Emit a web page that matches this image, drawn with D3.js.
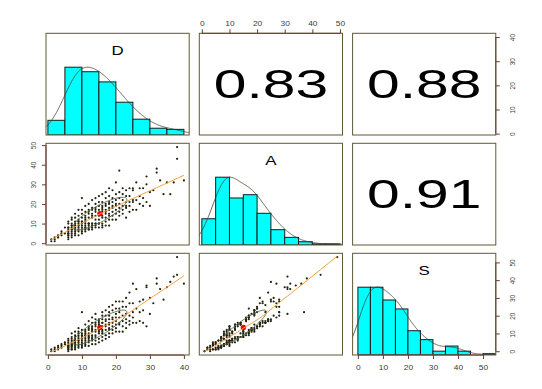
<!DOCTYPE html>
<html>
<head>
<meta charset="utf-8">
<script src="https://cdn.jsdelivr.net/npm/d3@7"></script>
<style>
  body { margin: 0; background: #fff; }
  text { font-family: "Liberation Sans", Arial, sans-serif; }
</style>
</head>
<body>
<div id="chart"></div>
<script>
// one value per case for each of the three variables
let D = [
  1, 1, 2, 2, 2, 3, 3, 3, 4, 4, 4, 5, 5,
  6, 6, 6, 6, 6, 6, 6, 6, 6, 6, 6, 6,
  7, 7, 7, 7, 7, 7, 7, 7, 7, 7, 7, 7,
  8, 8, 8, 8, 8, 8, 8, 8, 8, 8, 8, 8,
  9, 9, 9, 9, 9, 9, 9, 9, 9, 9, 9, 9,
  10, 10, 10, 10, 10, 10, 10, 10, 10, 10, 10, 10,
  11, 11, 11, 11, 11, 11, 11, 11, 11, 11, 11, 11,
  12, 12, 12, 12, 12, 12, 12, 12, 12, 12, 12, 12,
  13, 13, 13, 13, 13, 13, 13, 13, 13, 13, 13,
  14, 14, 14, 14, 14, 14, 14, 14, 14, 14, 14,
  15, 15, 15, 15, 15, 15, 15, 15, 15, 15,
  16, 16, 16, 16, 16, 16, 16, 16, 16, 16, 16,
  17, 17, 17, 17, 17, 17, 17, 17, 17, 17,
  18, 18, 18, 18, 18, 18, 18, 18, 18, 18,
  19, 19, 19, 19, 19, 19, 19, 19,
  20, 20, 20, 20, 20, 20, 20, 20,
  21, 21, 21, 21, 21, 21, 21, 22, 22, 22, 22, 22, 22, 23, 23, 23, 23, 23, 23, 24, 24, 24, 24, 24, 25, 25, 25, 25, 25,
  26, 26, 26, 27, 27, 27, 28, 28, 28, 29, 29, 29, 30, 30,
  31, 32, 32, 33, 35, 34, 36, 37, 38, 38, 40
];
let A = [
  1, 2, 1, 3, 2, 3, 4, 3, 5, 4, 6, 5, 8,
  2, 3, 4, 4, 5, 5, 6, 7, 8, 8, 10, 11,
  3, 4, 5, 6, 7, 7, 8, 9, 9, 10, 12, 13,
  4, 5, 6, 7, 8, 8, 9, 10, 10, 11, 13, 15,
  4, 6, 7, 8, 9, 9, 10, 11, 11, 12, 14, 17,
  5, 6, 7, 8, 9, 10, 11, 11, 13, 15, 17, 23,
  6, 7, 8, 8, 9, 10, 11, 12, 13, 14, 16, 19,
  7, 7, 8, 9, 10, 10, 10, 13, 15, 16, 17, 20,
  7, 8, 9, 10, 10, 13, 14, 15, 17, 18, 22,
  8, 9, 10, 10, 12, 14, 16, 17, 18, 20, 23,
  8, 10, 10, 12, 14, 15, 17, 19, 21, 24,
  8, 9, 10, 13, 14, 16, 17, 18, 19, 21, 25,
  9, 11, 13, 15, 16, 17, 19, 20, 23, 26,
  9, 12, 14, 15, 17, 18, 20, 21, 24, 28,
  12, 14, 16, 18, 19, 21, 23, 27,
  12, 15, 17, 19, 20, 22, 25, 31,
  14, 16, 18, 20, 23, 26, 37, 15, 17, 19, 22, 25, 28, 13, 18, 19, 21, 24, 27, 16, 19, 21, 24, 28, 17, 21, 22, 27, 28,
  17, 22, 31, 20, 24, 28, 19, 23, 28, 21, 30, 34, 19, 26,
  27, 38, 36, 32, 31, 25, 25, 31, 49, 43, 32
];
let S = [
  0, 1, 0, 1, 2, 1, 3, 2, 2, 4, 3, 5, 4,
  2, 0, 3, 1, 4, 1, 2, 6, 3, 7, 3, 5,
  3, 1, 4, 1, 6, 2, 3, 8, 4, 10, 5, 7,
  4, 1, 6, 2, 7, 3, 5, 9, 5, 11, 6, 8,
  5, 2, 7, 3, 9, 4, 6, 11, 6, 13, 8, 10,
  5, 2, 8, 3, 9, 4, 6, 10, 7, 12, 9, 22,
  6, 3, 9, 4, 10, 5, 7, 12, 8, 15, 9, 11,
  7, 3, 9, 5, 12, 6, 8, 14, 8, 17, 10, 13,
  8, 4, 11, 6, 13, 7, 16, 9, 19, 12, 14,
  9, 4, 12, 6, 15, 8, 18, 11, 21, 14, 16,
  10, 5, 14, 7, 16, 11, 18, 12, 15, 17,
  11, 6, 14, 8, 16, 10, 20, 12, 22, 16, 18,
  9, 7, 15, 9, 18, 12, 23, 14, 17, 20,
  12, 8, 16, 10, 20, 13, 25, 15, 18, 22,
  14, 10, 18, 12, 23, 16, 26, 19,
  15, 11, 19, 13, 24, 17, 28, 21,
  15, 19, 11, 24, 16, 28, 22, 14, 11, 20, 28, 17, 25, 16, 13, 21, 30, 18, 25, 17, 15, 27, 33, 20, 19, 16, 27, 38, 22,
  24, 16, 35, 22, 17, 28, 23, 16, 29, 14, 36, 37, 21, 30,
  27, 41, 38, 35, 36, 29, 39, 42, 53, 43, 38
];

let varNames = ["D", "A", "S"];
// upper panels (row, col) and the correlation printed in each
let corrCells = [[0, 1], [0, 2], [1, 2]];
let corrLabels = ["0.83", "0.88", "0.91"];
// tick values of each variable's axis
let ticksD = [0, 10, 20, 30, 40];
let ticksA = [0, 10, 20, 30, 40, 50];
let ticksS = [0, 10, 20, 30, 40, 50];

// layout
let svgWidth = 542, svgHeight = 389;
let colX = [46, 199.3, 352.6];
let rowY = [33.3, 143.3, 253.3];
let pw = 143.2, ph = 101.7;

let boxCol = "#5e5a35", axisCol = "#6a3b33", labelCol = "#3a3a3a";

let svg = d3.select("#chart")
  .append("svg")
  .attr("width", svgWidth)
  .attr("height", svgHeight);

let vars = [D, A, S];
let tickSets = [ticksD, ticksA, ticksS];

// R style ranges: data extent padded by 4% each side
let domains = vars.map(v => {
  let [lo, hi] = d3.extent(v);
  let pad = (hi - lo) * 0.04;
  return [lo - pad, hi + pad];
});
let xScales = vars.map((v, j) => d3.scaleLinear().domain(domains[j]).range([colX[j], colX[j] + pw]));
let yScales = vars.map((v, i) => d3.scaleLinear().domain(domains[i]).range([rowY[i] + ph, rowY[i]]));

// clip rects for every panel
let defs = svg.append("defs");
for (let i = 0; i < 3; i++) {
  for (let j = 0; j < 3; j++) {
    defs.append("clipPath").attr("id", `clip-${i}-${j}`)
      .append("rect")
      .attr("x", colX[j]).attr("y", rowY[i])
      .attr("width", pw).attr("height", ph);
  }
}

// histogram with R's right-closed bins and Sturges breaks
function histCounts(v) {
  let [lo, hi] = d3.extent(v);
  let step = d3.tickIncrement(lo, hi, Math.ceil(Math.log2(v.length) + 1));
  let b0 = Math.floor(lo / step) * step, b1 = Math.ceil(hi / step) * step;
  let breaks = d3.range(b0, b1 + step / 2, step);
  return breaks.slice(0, -1).map((b, k) => ({
    x0: b,
    x1: breaks[k + 1],
    n: v.filter(x => (k === 0 ? x >= b : x > b) && x <= breaks[k + 1]).length
  }));
}

// gaussian kernel density, bw = nrd * 1.2
function density(v) {
  let n = v.length;
  let sorted = d3.sort(v);
  let iqr = d3.quantile(sorted, 0.75) - d3.quantile(sorted, 0.25);
  let bw = 1.2 * 1.06 * Math.min(d3.deviation(v), iqr / 1.34) * Math.pow(n, -0.2);
  let lo = d3.min(v) - 3 * bw, hi = d3.max(v) + 3 * bw;
  let pts = d3.range(512).map(k => {
    let t = lo + (hi - lo) * k / 511;
    return [t, d3.sum(v, x => Math.exp(-0.5 * ((t - x) / bw) ** 2))];
  });
  let m = d3.max(pts, p => p[1]);
  return pts.map(p => [p[0], p[1] / m]);
}

// lowess smoother (f = 2/3, 3 robustness iterations)
function lowess(xv, yv, f = 2 / 3, iter = 3) {
  let order = d3.range(xv.length).sort((a, b) => xv[a] - xv[b]);
  let x = order.map(k => xv[k]), y = order.map(k => yv[k]);
  let n = x.length;
  let ns = Math.max(2, Math.min(n, Math.floor(f * n + 1e-7)));
  let rw = new Array(n).fill(1), fit = new Array(n).fill(0);
  for (let it = 0; it <= iter; it++) {
    for (let i = 0; i < n; i++) {
      let dist = x.map(v => Math.abs(v - x[i]));
      let h = d3.sort(dist)[ns - 1];
      let sw = 0, sx = 0, sy = 0;
      let w = dist.map((r, k) => {
        let wk;
        if (h === 0) wk = r === 0 ? 1 : 0;
        else if (r <= 0.999 * h) wk = r <= 0.001 * h ? 1 : Math.pow(1 - Math.pow(r / h, 3), 3);
        else wk = 0;
        return wk * rw[k];
      });
      for (let k = 0; k < n; k++) { sw += w[k]; sx += w[k] * x[k]; sy += w[k] * y[k]; }
      if (sw <= 0) { fit[i] = y[i]; continue; }
      let xb = sx / sw, yb = sy / sw, sxx = 0, sxy = 0;
      for (let k = 0; k < n; k++) {
        sxx += w[k] * (x[k] - xb) ** 2;
        sxy += w[k] * (x[k] - xb) * (y[k] - yb);
      }
      fit[i] = sxx > 1e-9 ? yb + (sxy / sxx) * (x[i] - xb) : yb;
    }
    if (it === iter) break;
    let res = y.map((v, k) => v - fit[k]);
    let cmad = 6 * d3.median(res.map(Math.abs));
    if (cmad < 1e-7) break;
    rw = res.map(r => {
      let u = Math.abs(r) / cmad;
      return u < 0.001 ? 1 : u > 0.999 ? 0 : (1 - u * u) ** 2;
    });
  }
  return x.map((v, k) => [v, fit[k]]);
}

function pearson(xv, yv) {
  let xm = d3.mean(xv), ym = d3.mean(yv);
  return d3.sum(xv, (v, k) => (v - xm) * (yv[k] - ym)) / ((xv.length - 1) * d3.deviation(xv) * d3.deviation(yv));
}

function stretchText(g, x, y, txt, size, sx) {
  return g.append("text")
    .attr("transform", `translate(${x}, ${y}) scale(${sx}, 1)`)
    .attr("text-anchor", "middle")
    .attr("dy", "0.35em")
    .attr("font-size", size)
    .attr("fill", "#000")
    .text(txt);
}

// diagonal: histogram, density and variable name
function drawDiag(i) {
  let g = svg.append("g").attr("clip-path", `url(#clip-${i}-${i})`);
  let x = xScales[i];
  let hy = d3.scaleLinear().domain([0, 1.5]).range([rowY[i] + ph, rowY[i]]);
  let bins = histCounts(vars[i]);
  let maxN = d3.max(bins, b => b.n);
  g.selectAll("rect")
    .data(bins)
    .join("rect")
    .attr("x", b => x(b.x0))
    .attr("width", b => x(b.x1) - x(b.x0))
    .attr("y", b => hy(b.n / maxN))
    .attr("height", b => hy(0) - hy(b.n / maxN))
    .attr("fill", "#00ffff")
    .attr("stroke", "#1a1a1a")
    .attr("stroke-width", 1);
  g.append("path")
    .datum(density(vars[i]))
    .attr("fill", "none")
    .attr("stroke", "#3f3f2f")
    .attr("stroke-width", 0.8)
    .attr("d", d3.line().x(p => x(p[0])).y(p => hy(p[1])));
  stretchText(svg, colX[i] + pw / 2, rowY[i] + 17, varNames[i], 13, 1.3);
}

// lower panels: points, correlation ellipse, mean, lowess
function drawScatter(i, j) {
  let g = svg.append("g").attr("clip-path", `url(#clip-${i}-${j})`);
  let x = xScales[j], y = yScales[i];
  let xv = vars[j], yv = vars[i];
  g.selectAll("circle.pt")
    .data(xv.map((v, k) => [v, yv[k]]))
    .join("circle")
    .attr("class", "pt")
    .attr("cx", d => x(d[0]))
    .attr("cy", d => y(d[1]))
    .attr("r", 1.1)
    .attr("fill", "#22220f");

  let xm = d3.mean(xv), ym = d3.mean(yv);
  let xs = d3.deviation(xv), ys = d3.deviation(yv);
  let r = pearson(xv, yv);
  let th = 1 / Math.sqrt(2);
  let ell = d3.range(52).map(k => {
    let a = k * 2 * Math.PI / 51;
    let c = Math.cos(a), s = Math.sin(a);
    let ex = th * (Math.sqrt(1 + r) * c - Math.sqrt(1 - r) * s);
    let ey = th * (Math.sqrt(1 + r) * c + Math.sqrt(1 - r) * s);
    return [xm + ex * xs, ym + ey * ys];
  });
  g.append("path")
    .datum(ell)
    .attr("fill", "none")
    .attr("stroke", "#557049")
    .attr("stroke-width", 0.9)
    .attr("d", d3.line().x(p => x(p[0])).y(p => y(p[1])));
  g.append("circle")
    .attr("cx", x(xm)).attr("cy", y(ym))
    .attr("r", 2.7)
    .attr("fill", "#ff0000");
  g.append("path")
    .datum(lowess(xv, yv))
    .attr("fill", "none")
    .attr("stroke", "#f5a040")
    .attr("stroke-width", 1)
    .attr("d", d3.line().x(p => x(p[0])).y(p => y(p[1])));
}

for (let i = 0; i < 3; i++) {
  drawDiag(i);
  for (let j = 0; j < i; j++) drawScatter(i, j);
}
corrCells.forEach(([i, j], k) => {
  stretchText(svg, colX[j] + pw / 2, rowY[i] + ph / 2, corrLabels[k], 40, 1.47);
});

// panel boxes
for (let i = 0; i < 3; i++) {
  for (let j = 0; j < 3; j++) {
    svg.append("rect")
      .attr("x", colX[j]).attr("y", rowY[i])
      .attr("width", pw).attr("height", ph)
      .attr("fill", "none")
      .attr("stroke", boxCol)
      .attr("stroke-width", 1);
  }
}

// axes, alternating sides as in pairs()
function drawAxis(orient, scale, ticks, pos) {
  let maker = {top: d3.axisTop, bottom: d3.axisBottom, left: d3.axisLeft, right: d3.axisRight}[orient];
  let horiz = orient === "top" || orient === "bottom";
  let g = svg.append("g")
    .attr("transform", horiz ? `translate(0, ${pos})` : `translate(${pos}, 0)`)
    .call(maker(scale).tickValues(ticks).tickSize(4).tickSizeOuter(0));
  g.select(".domain").remove();
  g.selectAll(".tick line").attr("stroke", axisCol);
  let ends = d3.extent(ticks).map(scale);
  g.append("line")
    .attr("x1", horiz ? ends[0] : 0).attr("x2", horiz ? ends[1] : 0)
    .attr("y1", horiz ? 0 : ends[0]).attr("y2", horiz ? 0 : ends[1])
    .attr("stroke", axisCol);
  let off = {top: -9.6, bottom: 12.8, left: -12.5, right: 16}[orient];
  g.selectAll(".tick text")
    .attr("x", null).attr("y", null)
    .attr("dy", "0.35em")
    .attr("text-anchor", "middle")
    .attr("font-size", horiz ? 7 : 6.5)
    .attr("fill", labelCol)
    .attr("transform", horiz ? `translate(0, ${off}) scale(1.2, 1)` : `translate(${off}, 0) scale(1.2, 1) rotate(-90)`);
}

drawAxis("top", xScales[1], tickSets[1], rowY[0]);
drawAxis("bottom", xScales[0], tickSets[0], rowY[2] + ph);
drawAxis("bottom", xScales[2], tickSets[2], rowY[2] + ph);
drawAxis("left", yScales[1], tickSets[1], colX[0]);
drawAxis("right", yScales[0], tickSets[0], colX[2] + pw);
drawAxis("right", yScales[2], tickSets[2], colX[2] + pw);
</script>
</body>
</html>
